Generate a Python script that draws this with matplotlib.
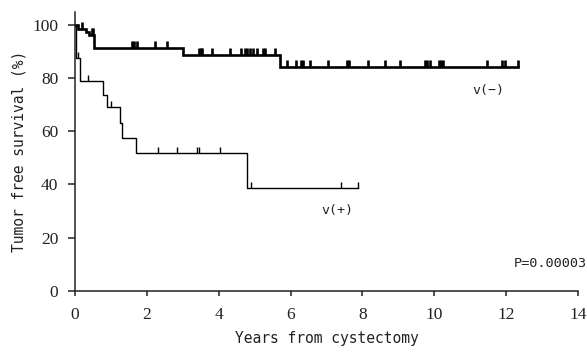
import numpy as np
import matplotlib
matplotlib.use("Agg")
import matplotlib.pyplot as plt

# ---- data ----
neg_times = [0.0, 0.07, 0.31, 0.40, 0.54, 3.0, 5.71]
neg_surv = [100.0, 98.6, 97.4, 96.2, 91.3, 88.8, 84.0]
neg_end = 12.33
neg_censor = [0.20, 0.46, 0.49, 1.58, 1.65, 1.72, 2.23, 2.55,
              3.45, 3.50, 3.53, 3.82, 4.31, 4.61, 4.73, 4.80, 4.87, 4.96,
              5.06, 5.24, 5.29, 5.57, 5.91, 6.15, 6.30, 6.35, 6.54, 7.05,
              7.58, 7.63, 8.16, 8.63, 9.04, 9.74, 9.80, 9.88, 10.12, 10.20,
              10.25, 11.46, 11.88, 11.97, 12.33]

pos_times = [0.0, 0.02, 0.14, 0.79, 0.88, 1.25, 1.30, 1.70, 4.78]
pos_surv = [100.0, 87.5, 78.8, 73.7, 69.0, 63.1, 57.5, 51.9, 38.8]
pos_end = 7.88
pos_censor = [0.09, 0.37, 0.99, 2.32, 2.83, 3.39, 3.45, 4.04, 4.90, 7.40, 7.88]

x_ticks = [0, 2, 4, 6, 8, 10, 12, 14]
y_ticks = [0, 20, 40, 60, 80, 100]

label_neg = "v(−)"
label_pos = "v(+)"
p_text = "P=0.00003"


def step_value(times, surv, t):
    idx = np.searchsorted(np.asarray(times), t, side="right") - 1
    return np.asarray(surv)[idx]


fig = plt.figure(figsize=(5.87, 3.52), dpi=100)
ax = fig.add_axes([0.1278, 0.1741, 0.9847 - 0.1278, 0.9668 - 0.1741])

mono = "DejaVu Sans Mono"
serif = "Liberation Serif"

# v(-) curve (thick)
ax.step(neg_times + [neg_end], neg_surv + [neg_surv[-1]], where="post",
        color="black", lw=1.9, solid_joinstyle="miter")
ax.plot(neg_censor, step_value(neg_times, neg_surv, neg_censor),
        linestyle="none", marker=2, markersize=5, markeredgewidth=1.9,
        color="black")

# v(+) curve (thin)
ax.step(pos_times + [pos_end], pos_surv + [pos_surv[-1]], where="post",
        color="black", lw=1.0)
ax.plot(pos_censor, step_value(pos_times, pos_surv, pos_censor),
        linestyle="none", marker=2, markersize=4, markeredgewidth=1.0,
        color="black")

ax.set_xlim(0, 14)
ax.set_ylim(0, 105)
ax.set_xticks(x_ticks)
ax.set_yticks(y_ticks)
for s in ["top", "right"]:
    ax.spines[s].set_visible(False)
for s in ["left", "bottom"]:
    ax.spines[s].set_linewidth(1.1)
    ax.spines[s].set_color("#222222")
ax.tick_params(axis="y", direction="out", length=5, width=1.1, pad=7,
               labelsize=12.5, colors="#222222")
ax.tick_params(axis="x", direction="out", length=3.5, width=1.1, pad=8,
               labelsize=12.5, colors="#222222")
for lab in ax.get_xticklabels() + ax.get_yticklabels():
    lab.set_fontfamily(serif)

ax.set_xlabel("Years from cystectomy", fontfamily=mono, fontsize=10.5,
              color="#222222", labelpad=6)
ax.set_ylabel("Tumor free survival (%)", fontfamily=mono, fontsize=10.5,
              color="#222222", labelpad=4)

ax.text(11.5, 75.3, label_neg, fontfamily=mono, fontsize=9.5,
        ha="center", va="center", color="#222222")
ax.text(7.3, 30.2, label_pos, fontfamily=mono, fontsize=9.5,
        ha="center", va="center", color="#222222")
ax.text(1.0, 10.4, p_text, fontfamily=mono, fontsize=9.7, ha="right",
        va="center", color="#222222",
        transform=matplotlib.transforms.blended_transform_factory(fig.transFigure, ax.transData))

fig.savefig("out.png", dpi=100)
